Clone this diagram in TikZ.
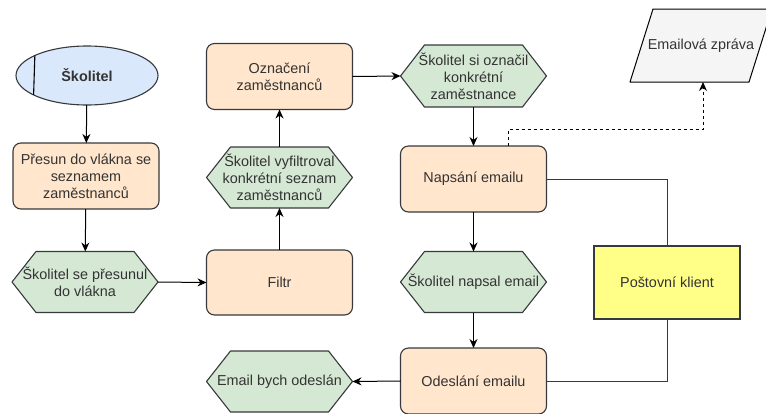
\documentclass[tikz,border=0pt]{standalone}
\usepackage{fontspec}
\setmainfont{Liberation Sans}
\usetikzlibrary{shapes.geometric,arrows.meta}
\pgfdeclarelayer{background}
\pgfsetlayers{background,main}

\definecolor{stroke}{HTML}{36393D}
\definecolor{txt}{HTML}{333333}
\definecolor{orangefill}{HTML}{FFE6CC}
\definecolor{greenfill}{HTML}{D5E8D4}
\definecolor{bluefill}{HTML}{DAE8FC}
\definecolor{yellowfill}{HTML}{FFFF88}
\definecolor{greyfill}{HTML}{F5F5F5}

% hexagon outline around a named rectangular node
\newcommand\hexoutline[1]{%
  \filldraw[hexline] (#1.west) -- ([xshift=24pt]#1.north west) -- ([xshift=-24pt]#1.north east)
    -- (#1.east) -- ([xshift=-24pt]#1.south east) -- ([xshift=24pt]#1.south west) -- cycle;}
% slanted data box around a named rectangular node
\newcommand\paraoutline[1]{%
  \filldraw[paraline] (#1.south west) -- ([xshift=23pt]#1.north west) -- (#1.north east)
    -- ([xshift=-23pt]#1.south east) -- cycle;}

\begin{document}
\begin{tikzpicture}[x=1pt,y=-1pt,
  font=\fontsize{14.4}{17}\selectfont,
  every node/.style={text=txt, inner sep=0pt, outer sep=0pt, align=center},
  proc/.style={draw=stroke, fill=orangefill, rounded corners=8pt,
    minimum width=146pt, minimum height=66pt, line width=1.1pt},
  hexnode/.style={minimum width=146pt, minimum height=61pt},
  hexline/.style={draw=stroke, fill=greenfill, line width=1.1pt, line join=round},
  paraline/.style={draw=black, fill=greyfill, line width=1pt, line join=round},
  actor/.style={ellipse, draw=stroke, fill=bluefill, line width=1.1pt,
    minimum width=142pt, minimum height=59pt},
  tool/.style={draw=stroke, fill=yellowfill, line width=1.1pt,
    minimum width=146pt, minimum height=73pt},
  conn/.style={draw=black, line width=1pt, -{Stealth[length=9pt,width=8pt]}},
  plainconn/.style={draw=stroke, line width=1pt},
  dataconn/.style={draw=black, line width=1pt, dash pattern=on 3pt off 3pt,
    -{Stealth[length=9pt,width=8pt]}}]

\useasboundingbox (0,0) rectangle (766,413);

% left column
\node[actor] (skolitel) at (87,75.5) {\textbf{Školitel}};
\draw[stroke, line width=1.1pt] (skolitel.159.7) -- (skolitel.200.3);
\node[proc] (presun) at (86,176) {Přesun do vlákna se\\seznamem\\zaměstnanců};
\node[hexnode] (presunul) at (85,282) {Školitel se přesunul\\do vlákna};

% middle column
\node[proc] (oznaceni) at (279.5,76.5) {Označení\\zaměstnanců};
\node[hexnode] (vyfiltroval) at (279.5,177.5) {Školitel vyfiltroval\\konkrétní seznam\\zaměstnanců};
\node[proc, minimum height=65pt] (filtr) at (279.5,282.5) {Filtr};
\node[hexnode] (odeslan) at (279.5,381.5) {Email bych odeslán};

% right column
\node[hexnode, minimum height=62pt] (oznacil) at (473.5,76) {Školitel si označil\\konkrétní\\zaměstnance};
\node[proc] (napsani) at (473.5,179) {Napsání emailu};
\node[hexnode] (napsal) at (473.5,282) {Školitel napsal email};
\node[proc] (odeslani) at (473.5,381) {Odeslání emailu};

% mail client and message
\node[tool] (klient) at (667,282.5) {Poštovní klient};
\node[minimum width=142pt, minimum height=73pt] (zprava) at (701,45.5) {Emailová zpráva};

\begin{pgfonlayer}{background}
  \hexoutline{presunul}
  \hexoutline{vyfiltroval}
  \hexoutline{odeslan}
  \hexoutline{oznacil}
  \hexoutline{napsal}
  \paraoutline{zprava}
\end{pgfonlayer}

% flow
\draw[conn] (skolitel) -- (presun);
\draw[conn] (presun) -- (presunul);
\draw[conn] (presunul.east) -- (filtr.west);
\draw[conn] (filtr) -- (vyfiltroval);
\draw[conn] (vyfiltroval) -- (oznaceni);
\draw[conn] (oznaceni.east) -- (oznacil.west);
\draw[conn] (oznacil) -- (napsani);
\draw[conn] (napsani) -- (napsal);
\draw[conn] (napsal) -- (odeslani);
\draw[conn] (odeslani.west) -- (odeslan.east);

% mail client links
\draw[plainconn] (napsani.east) -| (klient.north);
\draw[plainconn] (klient.south) |- (odeslani.east);

% written email becomes a message
\coordinate (bend) at (703,129);
\draw[dataconn] ([xshift=35pt]napsani.north) |- (bend) -- (bend |- zprava.south);
\end{tikzpicture}
\end{document}
